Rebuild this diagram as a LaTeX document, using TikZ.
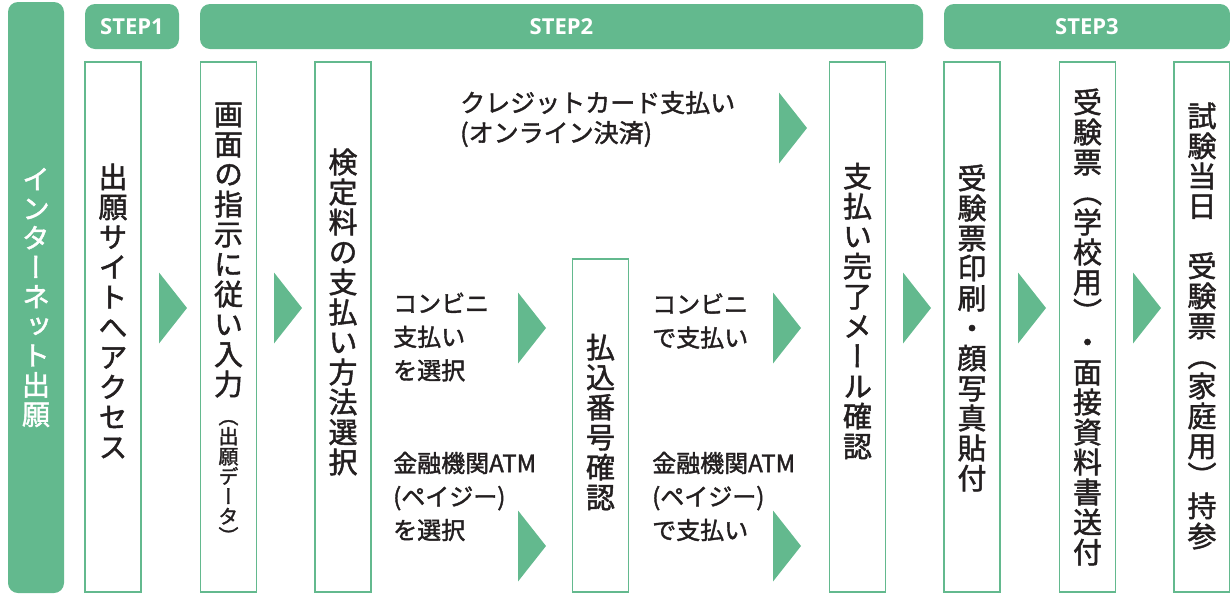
\documentclass[tikz,border=0pt]{standalone}
\usepackage{fontspec}
\setmainfont[FakeBold=1.6]{Noto Sans CJK JP}
\newfontfamily\jpv[RawFeature=+vert,FakeBold=1.6]{Noto Sans CJK JP}
\newfontfamily\stepfont{Open Sans}
\usetikzlibrary{shapes.geometric}
\definecolor{stepgreen}{RGB}{99,185,142}
\definecolor{ink}{RGB}{35,31,32}
\makeatletter
\newcommand\tate[1]{\vbox{\lineskiplimit=-\maxdimen\@tfor\tate@c:=#1\do{\hbox to 1em{\hss\tate@c\hss}}}}
\makeatother
\tikzset{
  side/.style={fill=stepgreen,rounded corners=10pt,minimum width=56pt,minimum height=591pt,inner sep=0pt,text=white,font=\jpv\fontsize{28}{29.4}\selectfont},
  hd/.style={fill=stepgreen,rounded corners=10pt,minimum height=45pt,inner sep=0pt,text=white,font=\stepfont\bfseries\fontsize{22}{22}\selectfont},
  blk/.style={draw=stepgreen,line width=1.8pt,fill=white,minimum width=56pt,minimum height=530pt,inner sep=0pt},
  vt/.style={inner sep=0pt,text=ink,font=\jpv\fontsize{29}{30}\selectfont},
  vts/.style={inner sep=0pt,text=ink,font=\jpv\fontsize{20}{20}\selectfont},
  lbl/.style={inner sep=0pt,anchor=west,align=left,text=ink,font=\fontsize{24}{33.5}\selectfont},
  tri/.style={isosceles triangle,isosceles triangle stretches,fill=stepgreen,inner sep=0pt,outer sep=0pt,minimum width=71pt,minimum height=28pt,anchor=apex}
}
\begin{document}
\begin{tikzpicture}[x=1pt,y=-1pt]
\useasboundingbox (0,0) rectangle (1230,595);

\node[side] (net) at (36,297.5) {\tate{インターネット出願}};

\node[hd,minimum width=94pt] (s1) at (132,26.5) {STEP1};
\node[hd,minimum width=723pt] (s2) at (561.5,26.5) {STEP2};
\node[hd,minimum width=286pt] (s3) at (1087,26.5) {STEP3};

\node[blk] (b1) at (113,327) {};
\node[blk] (b2) at (228.5,327) {};
\node[blk] (b3) at (343,327) {};
\node[blk,minimum height=333pt] (b4) at (600.5,425.5) {};
\node[blk] (b5) at (857.5,327) {};
\node[blk] (b6) at (972,327) {};
\node[blk] (b7) at (1087.5,327) {};
\node[blk] (b8) at (1202,327) {};

\node[vt] (t1) at (113,311) {\tate{出願サイトへアクセス}};
\node[vt] (t2) at (228.5,250) {\tate{画面の指示に従い入力}};
\node[vts] (t2s) at (228.5,482) {\tate{（出願データ）}};
\node[vt] (t3) at (343,312) {\tate{検定料の支払い方法選択}};
\node[vt] (t4) at (600.5,422) {\tate{払込番号確認}};
\node[vt] (t5) at (857.5,311) {\tate{支払い完了メール確認}};
\node[vt] (t6) at (972,328) {\tate{受験票印刷・顔写真貼付}};
\node[vt] (t7) at (1087.5,327) {\tate{受験票（学校用）・面接資料書送付}};
\node[vt] (t8) at (1202,326) {\tate{試験当日　受験票（家庭用）持参}};

\node[lbl,font=\fontsize{25}{30}\selectfont] (card) at (460,119) {クレジットカード支払い\\(オンライン決済)};
\node[lbl] (konl) at (393,337) {コンビニ\\支払い\\を選択};
\node[lbl] (atml) at (393,496.5) {金融機関ATM\\(ペイジー)\\を選択};
\node[lbl] (konr) at (652,321) {コンビニ\\で支払い};
\node[lbl] (atmr) at (652,496.5) {金融機関ATM\\(ペイジー)\\で支払い};

\node[tri] (a1) at (187,308) {};
\node[tri] (a2) at (302,308) {};
\node[tri] (a3) at (807,128) {};
\node[tri] (a4) at (546,328) {};
\node[tri] (a5) at (546,546) {};
\node[tri] (a6) at (801,328) {};
\node[tri] (a7) at (801,546) {};
\node[tri] (a8) at (931,308) {};
\node[tri] (a9) at (1046,308) {};
\node[tri] (a10) at (1161,308) {};
\end{tikzpicture}
\end{document}
